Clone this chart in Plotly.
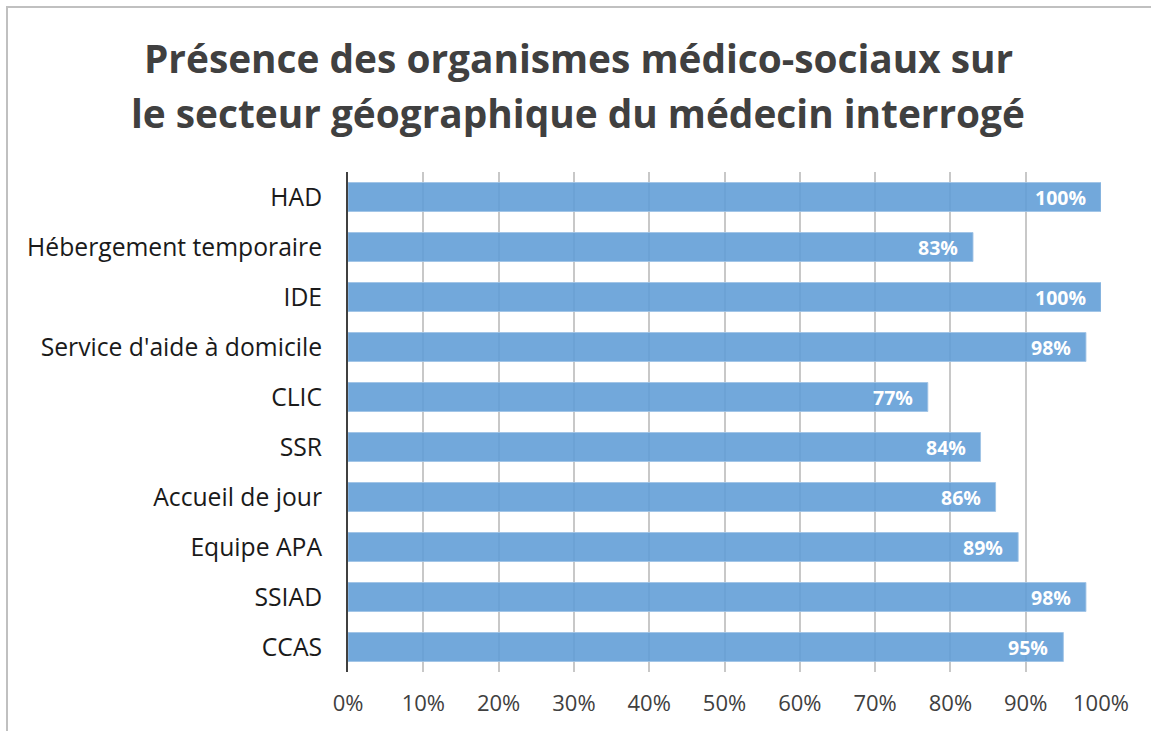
import plotly.graph_objects as go

categories = ["HAD", "Hébergement temporaire", "IDE", "Service d'aide à domicile", "CLIC",
              "SSR", "Accueil de jour", "Equipe APA", "SSIAD", "CCAS"]
values = [100, 83, 100, 98, 77, 84, 86, 89, 98, 95]
x_ticks = [0, 10, 20, 30, 40, 50, 60, 70, 80, 90, 100]
x_tick_labels = [f"{t}%" for t in x_ticks]
title_lines = ["Présence des organismes médico-sociaux sur",
               "le secteur géographique du médecin interrogé"]

FONT = "Open Sans"
W, H = 1151, 731
L, R, T, B = 348, 50, 172, 59

fig = go.Figure(go.Bar(
    y=categories, x=values, orientation="h",
    marker=dict(color="rgba(94,156,214,0.88)", line=dict(color="rgba(160,195,230,0.9)", width=1)),
    hoverinfo="skip",
))

pw, ph = W - L - R, H - T - B
def px2x(p):
    return (p - L) / pw
def py2y(p):
    return (H - B - p) / ph

annotations = []
for cat, v in zip(categories, values):
    annotations.append(dict(x=v, y=cat, xref="x", yref="y", text=f"{v}%", showarrow=False,
                            xanchor="right", yanchor="middle", xshift=-13,
                            font=dict(family=FONT, size=19.5, color="white", weight="bold")))
for line, yc in zip(title_lines, [58, 113]):
    annotations.append(dict(x=px2x(578), y=py2y(yc), xref="paper", yref="paper", text=line,
                            showarrow=False, xanchor="center", yanchor="middle",
                            font=dict(family=FONT, size=38.8, color="#404040", weight="bold")))

fig.update_layout(
    width=W, height=H,
    margin=dict(l=L, r=R, t=T, b=B, autoexpand=False),
    paper_bgcolor="white", plot_bgcolor="white",
    bargap=0.42,
    showlegend=False,
    xaxis=dict(range=[0, 100], tickvals=x_ticks, ticktext=x_tick_labels, showgrid=True,
               gridcolor="#c8c8c8", gridwidth=2, zeroline=False, showline=False,
               tickfont=dict(family=FONT, size=22, color="#404040"), ticks="", ticklabelstandoff=16,
               fixedrange=True, automargin=False),
    yaxis=dict(autorange="reversed", showgrid=False, showline=True, linecolor="#404040", linewidth=2,
               ticks="", tickfont=dict(family=FONT, size=24.7, color="#1a1a1a"), ticklabelstandoff=19,
               fixedrange=True, automargin=False),
    annotations=annotations,
    shapes=[dict(type="rect", xref="paper", yref="paper",
                 x0=px2x(7), x1=px2x(1160), y0=py2y(7), y1=py2y(740),
                 line=dict(color="#c0c0c0", width=2), fillcolor="rgba(0,0,0,0)", layer="below")],
)

fig.write_html("out.html", config={"displayModeBar": False},
               post_script="document.body.style.margin='0';document.body.style.overflow='hidden';")
